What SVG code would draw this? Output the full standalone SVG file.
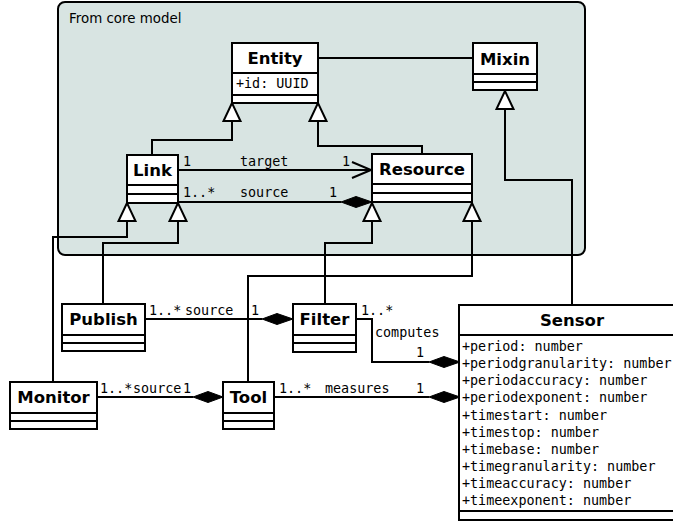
<svg xmlns="http://www.w3.org/2000/svg" width="673" height="523" viewBox="0 0 673 523">
<defs>
<style>
.box{fill:#fff;stroke:#000;stroke-width:2}
.ln{fill:none;stroke:#000;stroke-width:2}
.name{font-family:"DejaVu Sans",sans-serif;font-weight:bold;font-size:16.5px;text-anchor:middle}
.mono{font-family:"DejaVu Sans Mono",monospace;font-size:13.4px}
.tri{fill:#fff;stroke:#000;stroke-width:2}
.dia{fill:#000;stroke:#000;stroke-width:1}
</style>
</defs>
<rect x="58" y="2" width="527" height="253" rx="7" fill="#d8e4e2" stroke="#000" stroke-width="2"/>
<text x="69" y="23" font-family="DejaVu Sans, sans-serif" font-size="13.4">From core model</text>

<g id="connectors">
<path class="ln" d="M318 58H473"/>
<path class="ln" d="M152 155V140H232V121"/>
<polygon class="tri" points="232,103 223.5,121 240.5,121"/>
<path class="ln" d="M422 154V146H318V121"/>
<polygon class="tri" points="318,103 309.5,121 326.5,121"/>
<path class="ln" d="M572 305V180H505V109"/>
<polygon class="tri" points="505,91 496.5,109 513.5,109"/>
<path class="ln" d="M178 170H371"/>
<path class="ln" d="M352 162L371 170L352 178"/>
<text class="mono" x="183" y="166">1</text>
<text class="mono" x="240" y="166">target</text>
<text class="mono" x="342" y="166">1</text>
<path class="ln" d="M178 202H341"/>
<polygon class="dia" points="341,202 356,196.5 372,202 356,207.5"/>
<text class="mono" x="183" y="197">1..*</text>
<text class="mono" x="240" y="197">source</text>
<text class="mono" x="329" y="197">1</text>
<path class="ln" d="M53 382V237H127V221"/>
<polygon class="tri" points="127,203 118.5,221 135.5,221"/>
<path class="ln" d="M103 304V243H178V221"/>
<polygon class="tri" points="178,203 169.5,221 186.5,221"/>
<path class="ln" d="M325 304V243H372V221"/>
<polygon class="tri" points="372,203 363.5,221 380.5,221"/>
<path class="ln" d="M248 382V276H472V221"/>
<polygon class="tri" points="472,203 463.5,221 480.5,221"/>
<path class="ln" d="M145 319H262"/>
<polygon class="dia" points="262,319 277,313.5 293,319 277,324.5"/>
<text class="mono" x="149" y="315">1..*</text>
<text class="mono" x="185" y="315">source</text>
<text class="mono" x="251" y="315">1</text>
<path class="ln" d="M97 397H193"/>
<polygon class="dia" points="193,397 208,391.5 223,397 208,402.5"/>
<text class="mono" x="100" y="393">1..*</text>
<text class="mono" x="133" y="393">source</text>
<text class="mono" x="183" y="393">1</text>
<path class="ln" d="M274 397H429"/>
<polygon class="dia" points="429,397 444,391.5 460,397 444,402.5"/>
<text class="mono" x="279" y="393">1..*</text>
<text class="mono" x="325" y="393">measures</text>
<text class="mono" x="416" y="393">1</text>
<path class="ln" d="M356 319H372V362H429"/>
<polygon class="dia" points="429,362 444,356.5 460,362 444,367.5"/>
<text class="mono" x="361" y="315">1..*</text>
<text class="mono" x="375" y="337">computes</text>
<text class="mono" x="416" y="357">1</text>
</g>

<g id="Entity">
<rect class="box" x="232" y="43" width="86" height="60"/>
<path class="ln" d="M232 73H318M232 95H318"/>
<text class="name" x="275" y="64">Entity</text>
<text class="mono" x="236" y="88">+id: UUID</text>
</g>
<g id="Mixin">
<rect class="box" x="473" y="43" width="64" height="47"/>
<path class="ln" d="M473 74H537M473 82H537"/>
<text class="name" x="505" y="65">Mixin</text>
</g>
<g id="Link">
<rect class="box" x="127" y="155" width="51" height="48"/>
<path class="ln" d="M127 185H178M127 194H178"/>
<text class="name" x="152.5" y="176">Link</text>
</g>
<g id="Resource">
<rect class="box" x="372" y="154" width="100" height="48"/>
<path class="ln" d="M372 184H472M372 193H472"/>
<text class="name" x="422" y="175">Resource</text>
</g>
<g id="Publish">
<rect class="box" x="62" y="304" width="83" height="47"/>
<path class="ln" d="M62 335H145M62 343H145"/>
<text class="name" x="103.5" y="325">Publish</text>
</g>
<g id="Filter">
<rect class="box" x="293" y="304" width="63" height="48"/>
<path class="ln" d="M293 335H356M293 343H356"/>
<text class="name" x="324.5" y="325">Filter</text>
</g>
<g id="Monitor">
<rect class="box" x="10" y="382" width="87" height="47"/>
<path class="ln" d="M10 413H97M10 421H97"/>
<text class="name" x="53.5" y="403">Monitor</text>
</g>
<g id="Tool">
<rect class="box" x="223" y="382" width="51" height="47"/>
<path class="ln" d="M223 413H274M223 421H274"/>
<text class="name" x="248.5" y="403">Tool</text>
</g>
<g id="Sensor">
<rect class="box" x="459" y="305" width="226" height="215"/>
<path class="ln" d="M459 335H685M459 511H685"/>
<text class="name" x="572" y="326">Sensor</text>
<g class="mono">
<text x="462" y="351">+period: number</text>
<text x="462" y="368">+periodgranularity: number</text>
<text x="462" y="385">+periodaccuracy: number</text>
<text x="462" y="402">+periodexponent: number</text>
<text x="462" y="420">+timestart: number</text>
<text x="462" y="437">+timestop: number</text>
<text x="462" y="454">+timebase: number</text>
<text x="462" y="471">+timegranularity: number</text>
<text x="462" y="488">+timeaccuracy: number</text>
<text x="462" y="505">+timeexponent: number</text>
</g>
</g>
</svg>
